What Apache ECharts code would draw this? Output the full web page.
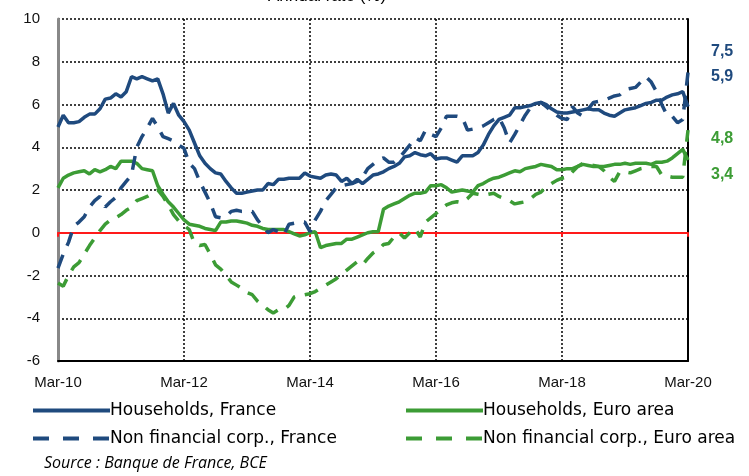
<!DOCTYPE html>
<html>
<head>
<meta charset="utf-8">
<script src="https://cdn.jsdelivr.net/npm/echarts@6/dist/echarts.min.js"></script>
<style>
  html, body { margin: 0; padding: 0; background: #fff; }
  #chart { width: 749px; height: 476px; }
</style>
</head>
<body>
<div id="chart"></div>
<script>
// monthly data, Mar-10 .. Mar-20
const monthNames = ['Jan', 'Feb', 'Mar', 'Apr', 'May', 'Jun', 'Jul', 'Aug', 'Sep', 'Oct', 'Nov', 'Dec'];
const months = [];
for (let k = 0; k <= 120; k++) {
  const m = (2 + k) % 12;
  const y = 10 + Math.floor((2 + k) / 12);
  months.push(monthNames[m] + '-' + y);
}

const hhFrance = [
  4.95, 5.5, 5.15, 5.15, 5.2, 5.4, 5.55, 5.55, 5.8, 6.25, 6.3, 6.5,
  6.35, 6.6, 7.3, 7.2, 7.3, 7.2, 7.1, 7.2, 6.5, 5.6, 6.05, 5.5,
  5.2, 4.8, 4.2, 3.6, 3.25, 3.0, 2.8, 2.75, 2.4, 2.1, 1.85, 1.85,
  1.9, 1.95, 2.0, 2.0, 2.3, 2.25, 2.5, 2.5, 2.55, 2.55, 2.55, 2.8,
  2.65, 2.6, 2.55, 2.7, 2.75, 2.7, 2.4, 2.55, 2.3, 2.5, 2.3, 2.5,
  2.7, 2.75, 2.85, 3.0, 3.1, 3.25, 3.55, 3.6, 3.75, 3.65, 3.6, 3.7,
  3.45, 3.5, 3.5, 3.4, 3.3, 3.6, 3.6, 3.6, 3.75, 4.1, 4.6, 5.0,
  5.3, 5.4, 5.5, 5.85, 5.85, 5.9, 5.95, 6.05, 6.1, 6.0, 5.8, 5.65,
  5.6, 5.6, 5.65, 5.7, 5.75, 5.8, 5.75, 5.75, 5.6, 5.5, 5.45, 5.6,
  5.75, 5.8, 5.85, 5.95, 6.05, 6.1, 6.2, 6.2, 6.35, 6.45, 6.5, 6.6,
  5.9
];
const hhEuro = [
  2.1, 2.55, 2.7, 2.8, 2.85, 2.9, 2.75, 2.95, 2.85, 2.95, 3.1, 3.0,
  3.35, 3.35, 3.35, 3.25, 3.0, 2.95, 2.9, 2.2, 1.8, 1.45, 1.2, 0.9,
  0.6, 0.4, 0.35, 0.3, 0.2, 0.15, 0.1, 0.5, 0.5, 0.55, 0.55, 0.5,
  0.45, 0.35, 0.3, 0.2, 0.15, 0.15, 0.15, 0.15, 0.05, -0.05, -0.15, -0.1,
  0.0, 0.05, -0.7, -0.6, -0.55, -0.5, -0.5, -0.3, -0.3, -0.2, -0.1, 0.0,
  0.05, 0.05, 1.1, 1.25, 1.35, 1.45, 1.6, 1.75, 1.85, 1.85, 1.9, 2.2,
  2.2, 2.25, 2.1, 1.9, 1.95, 2.0, 1.95, 1.9, 2.2, 2.3, 2.45, 2.55,
  2.6, 2.7, 2.8, 2.9, 2.85, 3.0, 3.05, 3.1, 3.2, 3.15, 3.1, 2.95,
  2.95, 3.0, 3.0, 3.1, 3.2, 3.15, 3.1, 3.1, 3.1, 3.15, 3.2, 3.2,
  3.25, 3.2, 3.25, 3.25, 3.25, 3.2, 3.3, 3.3, 3.35, 3.5, 3.7, 3.9,
  3.4
];
const nfcFrance = [
  -1.65, -1.0, -0.45, 0.3, 0.5, 0.75, 1.2, 1.5, 1.7, 1.2, 1.45, 1.65,
  2.1, 2.4, 2.7, 4.0, 4.5, 4.9, 5.35, 4.95, 4.5, 4.4, 4.3, 4.1,
  3.95, 3.25, 3.0, 2.4, 1.9, 1.4, 0.75, 0.7, 0.75, 1.0, 1.05, 1.0,
  1.0, 1.0, 0.6, 0.3, 0.0, 0.15, 0.05, -0.1, 0.4, 0.45, 0.5, 0.5,
  0.05, 0.6, 1.0, 1.5, 1.8, 2.1, 2.2, 2.25, 2.3, 2.4, 2.6, 3.0,
  3.2, 3.4, 3.5, 3.3, 3.3, 3.5, 3.8, 4.1, 4.45, 4.3, 4.8, 4.6,
  4.5, 4.9, 5.45, 5.45, 5.45, 5.4, 4.8, 4.85, 4.9, 5.0, 5.15, 5.3,
  5.4, 4.9, 4.2, 4.6, 5.05, 5.5, 5.85, 6.0, 6.1, 5.9, 5.7, 5.5,
  5.35, 5.3, 5.9, 5.6, 5.45, 5.8, 6.1, 6.15, 6.2, 6.3, 6.4, 6.45,
  6.7, 6.75, 6.8, 7.05, 7.3, 7.05, 6.6, 6.0, 5.5, 5.45, 5.15, 5.3,
  7.5
];
const nfcEuro = [
  -2.35, -2.5, -2.0, -1.6, -1.4, -1.0, -0.6, -0.25, 0.1, 0.4, 0.6, 0.7,
  0.85, 1.05, 1.2, 1.5, 1.6, 1.7, 1.85, 2.0, 1.7, 1.3, 0.85, 0.55,
  0.35, 0.15, -0.5, -0.6, -0.55, -1.0, -1.5, -1.7, -2.0, -2.3, -2.45, -2.6,
  -2.8, -2.9, -3.2, -3.4, -3.6, -3.75, -3.6, -3.6, -3.4, -3.0, -2.9, -2.9,
  -2.85, -2.75, -2.6, -2.45, -2.3, -2.15, -1.95, -1.75, -1.55, -1.35, -1.5, -1.2,
  -0.95, -0.8, -0.55, -0.5, -0.2, 0.0, -0.25, 0.0, 0.2, -0.2, 0.5, 0.7,
  0.9, 1.1, 1.3, 1.4, 1.45, 1.4, 1.6, 1.85, 1.8, 1.75, 1.8, 1.85,
  1.7, 1.6, 1.5, 1.35, 1.4, 1.45, 1.6, 1.8, 1.9, 2.15, 2.3, 2.45,
  2.55, 2.6, 2.85, 3.1, 3.25, 3.2, 3.15, 3.1, 2.9, 2.6, 2.4, 2.85,
  2.85, 2.8, 2.9, 3.0, 3.05, 3.1, 3.1, 2.7, 2.65, 2.6, 2.6, 2.6,
  4.8
];

// last values written at the right of the plot
const endLabels = ['7,5', '5,9', '4,8', '3,4'];

const blue = '#1F4A7E';
const green = '#3C9C35';
const font = 'Arial, "Liberation Sans", sans-serif';
const legendFont = '"DejaVu Sans", sans-serif';

const chart = echarts.init(document.getElementById('chart'), null, { renderer: 'canvas' });

function line(name, data, color, dashed) {
  return {
    name: name,
    type: 'line',
    data: data,
    showSymbol: false,
    symbol: 'none',
    xAxisIndex: 0,
    lineStyle: {
      color: color,
      width: 3.5,
      type: dashed ? [14, 10] : 'solid'
    },
    itemStyle: { color: color },
    z: 3
  };
}

function legendBox(names, left) {
  return {
    data: [
      { name: names[0] },
      { name: names[1], lineStyle: { type: [16, 14], width: 4 } }
    ],
    orient: 'vertical',
    left: left,
    top: 397,
    itemWidth: 77,
    itemHeight: 4,
    itemGap: 11,
    itemStyle: { opacity: 0 },
    lineStyle: { width: 4 },
    textStyle: { color: '#000', fontSize: 17, fontFamily: legendFont, padding: [0, 0, 0, -5] }
  };
}

const option = {
  animation: false,
  backgroundColor: '#fff',
  grid: { left: 58, right: 61, top: 19, bottom: 115 },
  xAxis: [{
    type: 'category',
    data: months,
    boundaryGap: false,
    position: 'bottom',
    axisLine: { onZero: false, lineStyle: { color: '#000', width: 2 } },
    axisTick: { show: false },
    axisLabel: {
      interval: 23,
      color: '#111',
      fontSize: 15,
      fontFamily: font,
      margin: 14,
      showMaxLabel: true
    },
    splitLine: {
      show: true,
      interval: 23,
      lineStyle: { color: '#000', width: 1.5, type: [2, 2] }
    }
  }, {
    // zero line in red
    type: 'category',
    data: months,
    boundaryGap: false,
    position: 'top',
    axisLine: { onZero: true, lineStyle: { color: '#FF1A1A', width: 2 } },
    axisTick: { show: true, interval: 23, length: 4, inside: true, lineStyle: { color: '#FF1A1A', width: 2 } },
    axisLabel: { show: false },
    splitLine: { show: false }
  }],
  yAxis: [{
    type: 'value',
    min: -6,
    max: 10,
    interval: 2,
    axisLine: { show: true, lineStyle: { color: '#888', width: 3 } },
    axisTick: { show: false },
    axisLabel: { color: '#111', fontSize: 15, fontFamily: font, margin: 18 },
    splitLine: { show: true, lineStyle: { color: '#000', width: 1.5, type: [2, 2] } }
  }, {
    type: 'value',
    min: -6,
    max: 10,
    interval: 2,
    position: 'right',
    axisLine: { show: true, lineStyle: { color: '#000', width: 2 } },
    axisTick: { show: false },
    axisLabel: { show: false },
    splitLine: { show: false }
  }],
  legend: [
    legendBox(['Households, France', 'Non financial corp., France'], 26),
    legendBox(['Households, Euro area', 'Non financial corp., Euro area'], 399)
  ],
  graphic: [{
    type: 'text',
    left: 268,
    top: -12,
    style: { text: 'Annual rate (%)', fill: '#000', font: '17px ' + font }
  }, {
    type: 'text',
    left: 44,
    top: 455,
    style: { text: 'Source : Banque de France, BCE', fill: '#000', font: 'italic 16px "Open Sans", sans-serif' }
  }, {
    type: 'text', left: 711, top: 44,
    style: { text: endLabels[0], fill: blue, font: 'bold 16px ' + font }
  }, {
    type: 'text', left: 711, top: 69,
    style: { text: endLabels[1], fill: blue, font: 'bold 16px ' + font }
  }, {
    type: 'text', left: 711, top: 131,
    style: { text: endLabels[2], fill: green, font: 'bold 16px ' + font }
  }, {
    type: 'text', left: 711, top: 167,
    style: { text: endLabels[3], fill: green, font: 'bold 16px ' + font }
  }],
  series: [
    line('Households, France', hhFrance, blue, false),
    line('Households, Euro area', hhEuro, green, false),
    line('Non financial corp., France', nfcFrance, blue, true),
    line('Non financial corp., Euro area', nfcEuro, green, true)
  ]
};

chart.setOption(option);
</script>
</body>
</html>
